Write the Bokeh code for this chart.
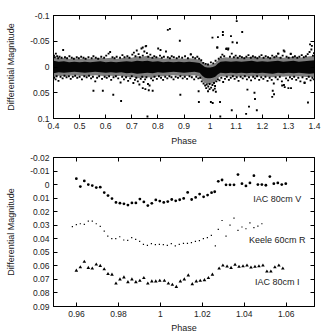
from bokeh.plotting import figure
from bokeh.layouts import column
from bokeh.models import Range1d, FixedTicker, LinearAxis, CustomJSTickFormatter
from bokeh.core.properties import value
from bokeh.embed import file_html
from bokeh.resources import INLINE

FONT = "Liberation Sans"
INK = "#222222"

# ---------------- full-orbit light curve (upper panel) ----------------
top_xticks = [0.4, 0.5, 0.6, 0.7, 0.8, 0.9, 1.0, 1.1, 1.2, 1.3, 1.4]
top_yticks = [-0.1, -0.05, 0.0, 0.05, 0.1]

# dense part of the photometry: envelope of the solid core and of the speckled fringe
band_phase = [0.40, 0.42, 0.44, 0.46, 0.48, 0.50, 0.52, 0.54, 0.56, 0.58, 0.60, 0.62, 0.64,
              0.66, 0.68, 0.70, 0.72, 0.74, 0.76, 0.78, 0.80, 0.82, 0.84, 0.86, 0.88, 0.90,
              0.92, 0.94, 0.96, 0.97, 0.98, 0.99, 1.00, 1.01, 1.02, 1.03, 1.04, 1.06, 1.08,
              1.10, 1.12, 1.14, 1.16, 1.18, 1.20, 1.22, 1.24, 1.26, 1.28, 1.30, 1.32, 1.34,
              1.36, 1.38, 1.40]
core_top = [-0.012, -0.010, -0.011, -0.009, -0.010, -0.009, -0.010, -0.009, -0.010, -0.011,
            -0.009, -0.010, -0.009, -0.010, -0.011, -0.010, -0.012, -0.011, -0.012, -0.010,
            -0.011, -0.009, -0.010, -0.009, -0.010, -0.009, -0.010, -0.009, -0.008, -0.004,
            0.000, 0.001, 0.001, 0.000, -0.002, -0.007, -0.010, -0.011, -0.010, -0.011,
            -0.010, -0.011, -0.012, -0.010, -0.011, -0.010, -0.011, -0.012, -0.010, -0.011,
            -0.012, -0.010, -0.011, -0.012, -0.013]
core_bot = [0.012, 0.010, 0.011, 0.010, 0.009, 0.010, 0.011, 0.010, 0.009, 0.010, 0.011,
            0.010, 0.011, 0.010, 0.012, 0.011, 0.013, 0.012, 0.011, 0.012, 0.010, 0.011,
            0.010, 0.009, 0.010, 0.011, 0.010, 0.009, 0.011, 0.017, 0.021, 0.022, 0.022,
            0.021, 0.019, 0.014, 0.011, 0.012, 0.011, 0.012, 0.011, 0.012, 0.011, 0.012,
            0.011, 0.012, 0.013, 0.011, 0.012, 0.011, 0.012, 0.011, 0.012, 0.013, 0.012]
fringe_top = [-0.020, -0.017, -0.018, -0.016, -0.017, -0.016, -0.017, -0.016, -0.017, -0.018,
              -0.017, -0.018, -0.016, -0.017, -0.019, -0.018, -0.021, -0.020, -0.022, -0.018,
              -0.019, -0.016, -0.017, -0.016, -0.017, -0.016, -0.017, -0.016, -0.014, -0.010,
              -0.006, -0.005, -0.005, -0.006, -0.008, -0.013, -0.017, -0.019, -0.018, -0.019,
              -0.018, -0.019, -0.020, -0.018, -0.019, -0.018, -0.019, -0.020, -0.018, -0.019,
              -0.020, -0.018, -0.019, -0.021, -0.022]
fringe_bot = [0.020, 0.017, 0.018, 0.017, 0.016, 0.017, 0.018, 0.017, 0.016, 0.017, 0.018,
              0.017, 0.018, 0.017, 0.020, 0.019, 0.022, 0.021, 0.020, 0.021, 0.018, 0.018,
              0.017, 0.016, 0.017, 0.018, 0.017, 0.016, 0.019, 0.026, 0.031, 0.033, 0.033,
              0.032, 0.029, 0.022, 0.018, 0.019, 0.018, 0.019, 0.018, 0.019, 0.018, 0.019,
              0.018, 0.019, 0.020, 0.018, 0.019, 0.018, 0.019, 0.018, 0.019, 0.020, 0.019]

# individual measurements at the edges of the band
edge_phase = [
    0.402, 0.405, 0.409, 0.414, 0.418, 0.423, 0.431, 0.437, 0.444, 0.452, 0.461, 0.470, 0.478,
    0.489, 0.497, 0.506, 0.515, 0.523, 0.534, 0.546, 0.553, 0.562, 0.571, 0.583, 0.594, 0.602,
    0.611, 0.617, 0.626, 0.634, 0.642, 0.655, 0.664, 0.672, 0.683, 0.691, 0.702, 0.708, 0.714,
    0.719, 0.726, 0.731, 0.737, 0.742, 0.748, 0.753, 0.758, 0.763, 0.771, 0.779, 0.786, 0.794,
    0.801, 0.808, 0.815, 0.823, 0.831, 0.838, 0.846, 0.853, 0.861, 0.872, 0.881, 0.893, 0.904,
    0.915, 0.926, 0.934, 0.943, 0.951, 0.958, 0.966, 0.974, 0.983, 0.992, 1.003, 1.012, 1.021,
    1.028, 1.033, 1.041, 1.047, 1.054, 1.062, 1.069, 1.076, 1.083, 1.091, 1.098, 1.106, 1.114,
    1.122, 1.131, 1.139, 1.147, 1.156, 1.164, 1.173, 1.181, 1.189, 1.197, 1.205, 1.213, 1.222,
    1.230, 1.238, 1.246, 1.254, 1.262, 1.270, 1.278, 1.285, 1.293, 1.301, 1.309, 1.317, 1.325,
    1.334, 1.342, 1.351, 1.359, 1.367, 1.374, 1.381, 1.388, 1.394, 1.398,
    0.403, 0.408, 0.412, 0.419, 0.427, 0.435, 0.442, 0.450, 0.459, 0.466, 0.474, 0.483, 0.491,
    0.500, 0.509, 0.518, 0.527, 0.536, 0.544, 0.551, 0.560, 0.567, 0.575, 0.586, 0.596, 0.604,
    0.613, 0.621, 0.630, 0.639, 0.648, 0.657, 0.663, 0.670, 0.678, 0.686, 0.694, 0.700, 0.706,
    0.712, 0.717, 0.723, 0.729, 0.734, 0.740, 0.745, 0.751, 0.756, 0.762, 0.768, 0.774, 0.781,
    0.787, 0.796, 0.804, 0.812, 0.820, 0.828, 0.836, 0.844, 0.852, 0.860, 0.868, 0.877, 0.886,
    0.895, 0.903, 0.912, 0.921, 0.930, 0.939, 0.947, 0.955, 0.962, 0.968, 0.975, 0.981, 0.987,
    0.993, 0.998, 1.004, 1.009, 1.015, 1.019, 1.024, 1.030, 1.036, 1.043, 1.050, 1.057, 1.064,
    1.072, 1.079, 1.087, 1.094, 1.102, 1.109, 1.117, 1.125, 1.133, 1.141, 1.149, 1.157, 1.165,
    1.172, 1.180, 1.188, 1.196, 1.204, 1.212, 1.220, 1.228, 1.236, 1.244, 1.251, 1.259, 1.267,
    1.275, 1.283, 1.291, 1.299, 1.306, 1.314, 1.322, 1.330, 1.338, 1.346, 1.354, 1.362, 1.370,
    1.378, 1.385, 1.392, 1.397]
edge_mag = [
    -0.022, -0.019, -0.026, -0.021, -0.017, -0.020, -0.018, -0.033, -0.019, -0.017, -0.021,
    -0.018, -0.016, -0.019, -0.017, -0.020, -0.018, -0.016, -0.019, -0.017, -0.021, -0.018,
    -0.016, -0.020, -0.018, -0.022, -0.026, -0.029, -0.019, -0.017, -0.020, -0.018, -0.023,
    -0.019, -0.021, -0.018, -0.024, -0.028, -0.021, -0.032, -0.025, -0.019, -0.036, -0.022,
    -0.030, -0.040, -0.027, -0.020, -0.024, -0.018, -0.021, -0.019, -0.036, -0.022, -0.018,
    -0.020, -0.030, -0.019, -0.017, -0.021, -0.019, -0.017, -0.020, -0.018, -0.021, -0.017,
    -0.024, -0.019, -0.017, -0.020, -0.016, -0.013, -0.008, -0.006, -0.005, -0.009, -0.007,
    -0.012, -0.038, -0.016, -0.019, -0.024, -0.021, -0.035, -0.034, -0.020, -0.026, -0.019,
    -0.022, -0.018, -0.021, -0.019, -0.017, -0.020, -0.023, -0.018, -0.021, -0.019, -0.017,
    -0.020, -0.023, -0.018, -0.021, -0.019, -0.017, -0.022, -0.019, -0.021, -0.026, -0.018,
    -0.022, -0.030, -0.020, -0.018, -0.025, -0.019, -0.021, -0.018, -0.020, -0.023, -0.019,
    -0.021, -0.025, -0.029, -0.034, -0.022, -0.027,
    0.021, 0.024, 0.018, 0.027, 0.019, 0.022, 0.017, 0.020, 0.018, 0.023, 0.019, 0.017, 0.021,
    0.019, 0.024, 0.018, 0.020, 0.017, 0.022, 0.019, 0.028, 0.021, 0.018, 0.023, 0.019, 0.021,
    0.018, 0.025, 0.020, 0.018, 0.022, 0.030, 0.019, 0.024, 0.020, 0.027, 0.022, 0.018, 0.031,
    0.025, 0.021, 0.028, 0.034, 0.023, 0.019, 0.029, 0.024, 0.020, 0.033, 0.036, 0.022, 0.026,
    0.019, 0.023, 0.018, 0.021, 0.025, 0.019, 0.022, 0.018, 0.020, 0.024, 0.019, 0.021, 0.018,
    0.022, 0.019, 0.023, 0.018, 0.020, 0.024, 0.019, 0.022, 0.021, 0.028, 0.032, 0.036, 0.034,
    0.038, 0.033, 0.040, 0.035, 0.031, 0.037, 0.028, 0.024, 0.026, 0.021, 0.029, 0.023, 0.019,
    0.025, 0.021, 0.018, 0.023, 0.020, 0.027, 0.019, 0.022, 0.018, 0.024, 0.020, 0.026, 0.019,
    0.022, 0.018, 0.025, 0.020, 0.023, 0.019, 0.027, 0.021, 0.025, 0.032, 0.020, 0.024, 0.019,
    0.028, 0.035, 0.022, 0.026, 0.020, 0.023, 0.019, 0.025, 0.021, 0.028, 0.020, 0.030, 0.023,
    0.019, 0.026, 0.021, 0.024]

# isolated outlying measurements
out_phase = [0.742, 0.755, 0.810, 0.838, 0.846, 0.884, 0.926, 1.009, 1.027, 1.030, 1.049,
             1.049, 1.063, 1.070, 1.080, 1.086, 1.102, 1.103, 1.123, 1.260, 1.282, 1.309,
             1.383, 1.390,
             0.553, 0.589, 0.629, 0.659, 0.742, 0.752, 0.765, 0.780, 0.760, 0.886, 0.956,
             0.957, 0.998, 1.003, 1.010, 1.038, 1.039, 1.083, 1.138, 1.143, 1.149, 1.170,
             1.172, 1.179, 1.240, 1.245, 1.238, 1.276, 1.286, 1.300, 1.310, 1.362, 1.375,
             0.985, 1.012, 1.018, 1.022, 0.992]
out_mag = [-0.038, -0.041, -0.033, -0.072, -0.074, -0.051, -0.025, -0.057, -0.038, -0.058,
           -0.068, -0.062, -0.036, -0.036, -0.060, -0.048, -0.089, -0.047, -0.068, -0.026,
           -0.032, -0.026, -0.044, -0.041,
           0.046, 0.046, 0.054, 0.066, 0.041, 0.043, 0.045, 0.046, 0.096, 0.054, 0.047,
           0.068, 0.043, 0.068, 0.070, 0.068, 0.096, 0.084, 0.091, 0.044, 0.077, 0.050,
           0.062, 0.084, 0.046, 0.053, 0.058, 0.036, 0.039, 0.041, 0.041, 0.031, 0.069,
           0.041, 0.045, 0.042, 0.048, 0.047]

# ---------------- transit close-up (lower panel) ----------------
bot_xticks = [0.96, 0.98, 1.0, 1.02, 1.04, 1.06]
bot_yticks = [-0.02, -0.01, 0.0, 0.01, 0.02, 0.03, 0.04, 0.05, 0.06, 0.07, 0.08, 0.09]

v_phase = [0.9599, 0.9618, 0.9637, 0.9656, 0.9675, 0.9694, 0.9713, 0.9732, 0.9750, 0.9769,
           0.9788, 0.9807, 0.9826, 0.9845, 0.9864, 0.9883, 0.9902, 0.9921, 0.9940, 0.9959,
           0.9978, 0.9997, 1.0016, 1.0035, 1.0054, 1.0073, 1.0092, 1.0111, 1.0130, 1.0149,
           1.0168, 1.0187, 1.0206, 1.0225, 1.0244, 1.0259, 1.0276, 1.0294, 1.0313, 1.0332,
           1.0351, 1.0370, 1.0389, 1.0408, 1.0427, 1.0446, 1.0465, 1.0484, 1.0503, 1.0522,
           1.0541, 1.0560, 1.0579, 1.0598]
v_mag = [-0.0044, 0.0015, -0.0027, 0.0000, 0.0007, 0.0022, 0.0019, 0.0059, 0.0081, 0.0103,
         0.0132, 0.0137, 0.0142, 0.0151, 0.0135, 0.0135, 0.0107, 0.0128, 0.0155, 0.0138,
         0.0113, 0.0122, 0.0132, 0.0125, 0.0110, 0.0120, 0.0112, 0.0102, 0.0058, 0.0110,
         0.0095, 0.0070, 0.0090, 0.0077, 0.0060, 0.0053, -0.0024, -0.0034, 0.0002, 0.0002,
         0.0002, -0.0074, -0.0007, 0.0010, -0.0012, -0.0066, 0.0000, 0.0000, 0.0005, -0.0059,
         -0.0007, -0.0012, 0.0000, -0.0007]

r_phase = [0.9580, 0.9599, 0.9618, 0.9637, 0.9656, 0.9675, 0.9694, 0.9713, 0.9732, 0.9749,
           0.9768, 0.9787, 0.9806, 0.9825, 0.9844, 0.9863, 0.9882, 0.9901, 0.9919, 0.9938,
           0.9957, 0.9976, 0.9995, 1.0014, 1.0033, 1.0052, 1.0071, 1.0090, 1.0110, 1.0129,
           1.0148, 1.0167, 1.0186, 1.0205, 1.0224, 1.0243, 1.0262, 1.0276, 1.0294, 1.0313,
           1.0332, 1.0351, 1.0370, 1.0389, 1.0408, 1.0427, 1.0446, 1.0465, 1.0484]
r_mag = [0.0311, 0.0296, 0.0289, 0.0294, 0.0269, 0.0269, 0.0289, 0.0309, 0.0343, 0.0380,
         0.0399, 0.0399, 0.0385, 0.0409, 0.0412, 0.0392, 0.0404, 0.0419, 0.0441, 0.0449,
         0.0436, 0.0443, 0.0441, 0.0443, 0.0449, 0.0436, 0.0453, 0.0441, 0.0434, 0.0434,
         0.0429, 0.0419, 0.0414, 0.0399, 0.0392, 0.0375, 0.0453, 0.0330, 0.0265, 0.0380,
         0.0299, 0.0247, 0.0338, 0.0313, 0.0326, 0.0282, 0.0318, 0.0306, 0.0289]

i_phase = [0.9599, 0.9618, 0.9637, 0.9656, 0.9675, 0.9694, 0.9713, 0.9732, 0.9750, 0.9769,
           0.9788, 0.9807, 0.9826, 0.9845, 0.9864, 0.9883, 0.9902, 0.9921, 0.9940, 0.9959,
           0.9978, 0.9997, 1.0019, 1.0038, 1.0057, 1.0076, 1.0095, 1.0114, 1.0133, 1.0152,
           1.0171, 1.0190, 1.0210, 1.0229, 1.0248, 1.0280, 1.0298, 1.0318, 1.0337, 1.0356,
           1.0375, 1.0394, 1.0413, 1.0432, 1.0451, 1.0470, 1.0489, 1.0508, 1.0527, 1.0546,
           1.0565, 1.0584]
i_mag = [0.0635, 0.0610, 0.0570, 0.0615, 0.0620, 0.0590, 0.0600, 0.0625, 0.0660, 0.0665,
         0.0730, 0.0700, 0.0685, 0.0720, 0.0700, 0.0720, 0.0710, 0.0690, 0.0730, 0.0715,
         0.0715, 0.0710, 0.0710, 0.0730, 0.0740, 0.0755, 0.0715, 0.0700, 0.0670, 0.0735,
         0.0715, 0.0710, 0.0705, 0.0690, 0.0665, 0.0620, 0.0597, 0.0605, 0.0615, 0.0592,
         0.0607, 0.0603, 0.0597, 0.0612, 0.0607, 0.0603, 0.0597, 0.0642, 0.0642, 0.0610,
         0.0597, 0.0620]

series_names = ["IAC 80cm V", "Keele 60cm R", "IAC 80cm I"]
name_phase = [1.0557, 1.0557, 1.0557]
name_mag = [0.0108, 0.0410, 0.0718]


num_fmt = "return String(parseFloat(tick.toFixed(4)));"


def style_axis(ax, ticks, labelled=True):
    ax.ticker = FixedTicker(ticks=ticks)
    ax.major_tick_in = 4
    ax.major_tick_out = 0
    ax.minor_tick_in = 0
    ax.minor_tick_out = 0
    ax.axis_line_color = "black"
    ax.major_tick_line_color = "black"
    if labelled:
        ax.formatter = CustomJSTickFormatter(code=num_fmt)
        ax.major_label_text_font = FONT
        ax.major_label_text_font_size = "8.5px"
        ax.major_label_text_color = INK
        ax.major_label_standoff = 4
        ax.axis_label_text_font = FONT
        ax.axis_label_text_font_size = "9px"
        ax.axis_label_text_font_style = "normal"
        ax.axis_label_text_color = INK
    else:
        ax.formatter = CustomJSTickFormatter(code="return '';")
        ax.major_label_standoff = 0
        ax.major_label_text_font_size = "1px"


def make_panel(width, height, xr, yr, xticks, yticks, borders, xstand, ystand):
    p = figure(width=width, height=height, x_range=xr, y_range=yr,
               output_backend="svg", toolbar_location=None,
               min_border_left=borders[0], min_border_right=borders[1],
               min_border_top=borders[2], min_border_bottom=borders[3])
    p.grid.visible = False
    p.outline_line_color = "black"
    p.background_fill_color = "white"
    p.border_fill_color = "white"
    style_axis(p.xaxis[0], xticks)
    style_axis(p.yaxis[0], yticks)
    p.xaxis[0].axis_label = "Phase"
    p.yaxis[0].axis_label = "Differential Magnitude"
    p.xaxis[0].axis_label_standoff = xstand
    p.yaxis[0].axis_label_standoff = ystand
    top_ax = LinearAxis()
    style_axis(top_ax, xticks, labelled=False)
    p.add_layout(top_ax, "above")
    right_ax = LinearAxis()
    style_axis(right_ax, yticks, labelled=False)
    p.add_layout(right_ax, "right")
    return p


# upper panel
p1 = make_panel(321, 150, Range1d(0.4, 1.4), Range1d(0.1, -0.1), top_xticks, top_yticks,
                (53, 5, 15, 32), 4, 11)
p1.varea(x=band_phase, y1=fringe_top, y2=fringe_bot, fill_color="black", fill_alpha=0.5)
p1.varea(x=band_phase, y1=core_top, y2=core_bot, fill_color="black", fill_alpha=0.95)
p1.scatter(edge_phase, edge_mag, marker="square", size=1.9, fill_color="black",
           line_color=None)
p1.scatter(out_phase, out_mag, marker="square", size=1.9, fill_color="black",
           line_color=None)

# lower panel
p2 = make_panel(321, 185, Range1d(0.949, 1.0735), Range1d(0.09, -0.02), bot_xticks,
                bot_yticks, (53, 7, 7, 28), 3, 11)
p2.scatter(v_phase, v_mag, marker="circle", size=2.8, fill_color="black", line_color=None)
p2.scatter(r_phase, r_mag, marker="square", size=1.2, fill_color="black", line_color=None)
p2.scatter(i_phase, i_mag, marker="triangle", size=3.6, fill_color="black",
           line_color=None)
p2.text(x=name_phase, y=name_mag, text=series_names, text_align="center",
        text_baseline="middle", text_font=value(FONT), text_font_size="9px",
        text_color=INK)

layout = column(p1, p2, spacing=0)
open("out.html", "w").write(file_html(layout, INLINE))
